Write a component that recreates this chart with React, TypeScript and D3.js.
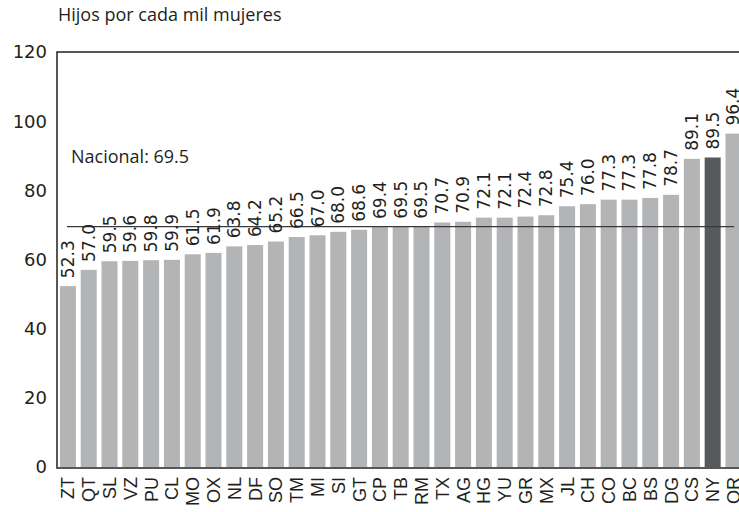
import React, { useRef, useEffect } from 'react';
import * as d3 from 'd3';

const states = ['ZT', 'QT', 'SL', 'VZ', 'PU', 'CL', 'MO', 'OX', 'NL', 'DF', 'SO', 'TM', 'MI', 'SI', 'GT', 'CP',
  'TB', 'RM', 'TX', 'AG', 'HG', 'YU', 'GR', 'MX', 'JL', 'CH', 'CO', 'BC', 'BS', 'DG', 'CS', 'NY', 'QR'];
const values = [52.3, 57.0, 59.5, 59.6, 59.8, 59.9, 61.5, 61.9, 63.8, 64.2, 65.2, 66.5, 67.0, 68.0, 68.6, 69.4,
  69.5, 69.5, 70.7, 70.9, 72.1, 72.1, 72.4, 72.8, 75.4, 76.0, 77.3, 77.3, 77.8, 78.7, 89.1, 89.5, 96.4];
const yTicks = [0, 20, 40, 60, 80, 100, 120];
const nacional = 69.5;
const highlight = 'NY';

const W = 739;
const H = 512;

const App = () => {
  const svgRef = useRef(null);

  useEffect(() => {
    const svg = d3.select(svgRef.current);
    svg.selectAll('*').remove();

    const left = 57;
    const top = 52;
    const bottom = 467;

    const y = d3.scaleLinear().domain([0, 120]).range([bottom, top]);
    const x = d3.scaleBand()
      .domain(states)
      .range([left, left + states.length * 20.83])
      .paddingInner(0.23)
      .paddingOuter(0.14);

    const data = states.map((s, i) => ({ s, v: values[i] }));

    svg.append('text')
      .attr('x', 58).attr('y', 21)
      .style('font', '18px "Open Sans", sans-serif')
      .attr('fill', '#231f20')
      .text('Hijos por cada mil mujeres');

    // bars
    svg.append('g').selectAll('rect').data(data).enter().append('rect')
      .attr('x', d => x(d.s))
      .attr('y', d => y(d.v))
      .attr('width', x.bandwidth())
      .attr('height', d => y(0) - y(d.v))
      .attr('fill', d => d.s === highlight ? '#58595b' : '#b3b4b6');

    // frame
    svg.append('path')
      .attr('d', `M${W},${top}H${left}V${bottom + 1}H${W}`)
      .attr('fill', 'none')
      .attr('stroke', '#231f20')
      .attr('stroke-width', 1.5);

    // y ticks
    svg.append('g').selectAll('text').data(yTicks).enter().append('text')
      .attr('x', 47)
      .attr('y', d => y(d))
      .attr('dy', '0.36em')
      .attr('text-anchor', 'end')
      .style('font', '18px "DejaVu Sans", sans-serif')
      .attr('fill', '#231f20')
      .text(d => d);

    // national line
    svg.append('line')
      .attr('x1', 67).attr('x2', 734)
      .attr('y1', y(nacional)).attr('y2', y(nacional))
      .attr('stroke', '#3a3a3c')
      .attr('stroke-width', 1.3);

    svg.append('text')
      .attr('x', 71).attr('y', 163)
      .style('font', '18px "Open Sans", sans-serif')
      .attr('fill', '#231f20')
      .text(`Nacional: ${nacional.toFixed(1)}`);

    // value labels
    svg.append('g').selectAll('text').data(data).enter().append('text')
      .attr('transform', d => `translate(${x(d.s) + x.bandwidth() / 2 + 6},${y(d.v) - 8}) rotate(-90)`)
      .style('font', '17px "DejaVu Sans", sans-serif')
      .attr('fill', '#231f20')
      .text(d => d.v.toFixed(1));

    // category labels
    svg.append('g').selectAll('text').data(data).enter().append('text')
      .attr('transform', d => `translate(${x(d.s) + x.bandwidth() / 2 + 6.5},${477}) rotate(-90)`)
      .attr('text-anchor', 'end')
      .style('font', '18px "Liberation Sans", sans-serif')
      .attr('fill', '#231f20')
      .text(d => d.s);
  }, []);

  return (
    <svg ref={svgRef} width={W} height={H} style={{ position: 'absolute', left: 0, top: 0, background: '#fff' }}></svg>
  );
};

export default App;
